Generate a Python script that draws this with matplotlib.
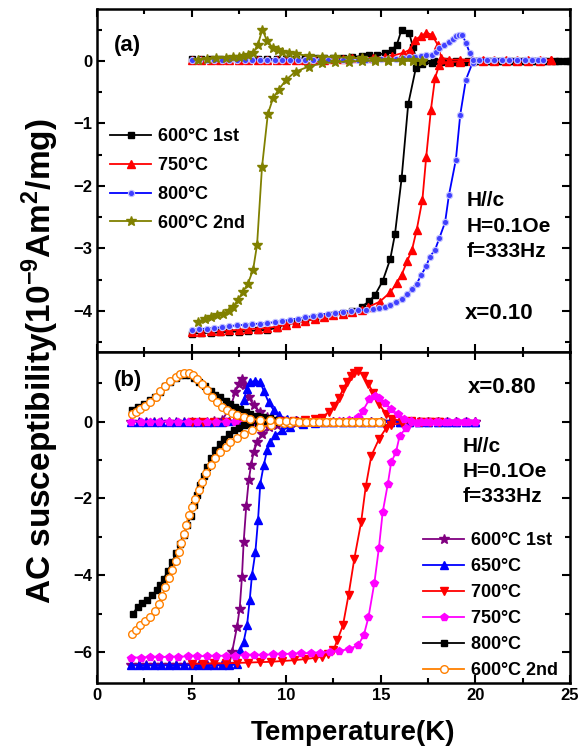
import matplotlib
matplotlib.use("Agg")
import matplotlib.pyplot as plt
from matplotlib.ticker import MultipleLocator

plt.rcParams['font.family'] = ['Liberation Sans', 'DejaVu Sans']
plt.rcParams['font.weight'] = 'bold'
plt.rcParams['mathtext.fontset'] = 'custom'
plt.rcParams['mathtext.rm'] = 'Liberation Sans:bold'
plt.rcParams['mathtext.bf'] = 'Liberation Sans:bold'
plt.rcParams['mathtext.default'] = 'bf'

# ---------------- panel (a), x = 0.10 ----------------
# 600°C 1st
a1_T_re = [5.0, 5.5, 6.0, 6.5, 7.0, 7.5, 8.0, 8.5, 9.0, 9.5, 10.0, 10.5, 11.0, 11.5, 12.0, 12.5, 13.0, 13.5, 14.0,
           14.4, 14.7, 15.1, 15.5, 15.75, 16.1, 16.45, 16.85, 17.2,
           17.7, 18.2, 18.8, 19.4, 20.0, 20.6, 21.2, 21.8, 22.4, 23.0, 23.6, 24.2, 24.8]
a1_re = [-4.36, -4.35, -4.35, -4.34, -4.33, -4.33, -4.32, -4.31, -4.30, -4.27, -4.20, -4.17, -4.15, -4.13, -4.10, -4.07, -4.03, -4.00, -3.93,
         -3.84, -3.74, -3.52, -3.17, -2.77, -1.88, -0.69, -0.12, -0.05,
         -0.03, -0.02, -0.01, -0.01, 0, 0, 0, 0, 0, 0, 0, 0, 0]
a1_T_im = [5.0, 5.5, 6.0, 6.5, 7.0, 7.5, 8.0, 8.5, 9.0, 9.5, 10.0, 10.5, 11.0, 11.5, 12.0, 12.5, 13.0, 13.5, 14.0,
           14.4, 14.8, 15.2, 15.6, 15.85, 16.1, 16.5, 16.7, 16.9,
           17.3, 17.8, 18.4, 19.0, 19.6, 20.2, 20.8, 21.4, 22.0, 22.6, 23.2, 23.8, 24.4, 25.0]
a1_im = [0.03, 0.03, 0.03, 0.03, 0.03, 0.03, 0.03, 0.03, 0.03, 0.03, 0.03, 0.03, 0.04, 0.04, 0.04, 0.05, 0.05, 0.06, 0.08,
         0.09, 0.10, 0.12, 0.18, 0.26, 0.50, 0.45, 0.22, 0.0,
         0, 0, 0, 0, 0, 0, 0, 0, 0, 0, 0, 0, 0, 0]

# 750°C
a2_T_re = [5.0, 5.5, 6.0, 6.5, 7.0, 7.5, 8.0, 8.5, 9.0, 9.5, 10.0, 10.5, 11.0, 11.5, 12.0, 12.5, 13.0, 13.5, 14.0,
           14.3, 14.95, 15.5, 15.85, 16.1, 16.4, 16.65, 16.9, 17.2, 17.4, 17.65, 17.87, 18.1,
           18.6, 19.2, 19.8, 20.4, 21.0, 21.6, 22.2, 22.8, 23.4, 24.0]
a2_re = [-4.33, -4.33, -4.32, -4.32, -4.31, -4.30, -4.29, -4.28, -4.27, -4.25, -4.22, -4.19, -4.16, -4.13, -4.10, -4.07, -4.04, -4.01, -3.98,
         -3.94, -3.85, -3.70, -3.55, -3.42, -3.20, -3.02, -2.70, -2.22, -1.54, -0.78, -0.27, -0.06,
         -0.02, -0.01, 0, 0, 0, 0, 0, 0, 0, 0.01]
a2_T_im = [5.0, 5.5, 6.0, 6.5, 7.0, 7.5, 8.0, 8.5, 9.0, 9.5, 10.0, 10.5, 11.0, 11.5, 12.0, 12.5, 13.0, 13.5, 14.0,
           14.6, 15.2, 15.6, 16.2, 16.55, 16.8, 17.1, 17.4, 17.7, 18.0, 18.2,
           18.6, 19.2, 19.8, 20.4, 21.0, 21.6, 22.2, 22.8, 23.4, 24.0]
a2_im = [0.02, 0.02, 0.02, 0.02, 0.02, 0.02, 0.02, 0.02, 0.02, 0.02, 0.02, 0.02, 0.02, 0.02, 0.02, 0.03, 0.03, 0.04, 0.04,
         0.05, 0.06, 0.08, 0.13, 0.18, 0.34, 0.39, 0.45, 0.42, 0.26, 0.05,
         0.02, 0.02, 0.02, 0.02, 0.02, 0.02, 0.02, 0.02, 0.02, 0.02]

# 800°C
a3_T_re = [5.0, 5.4, 5.8, 6.2, 6.6, 7.0, 7.4, 7.8, 8.2, 8.6, 9.0, 9.4, 9.8, 10.2, 10.6, 11.0, 11.4, 11.8, 12.2, 12.6, 13.0,
           13.4, 13.8, 14.2, 14.6, 14.9, 15.2, 15.5, 15.8, 16.1, 16.4,
           16.65, 16.9, 17.15, 17.4, 17.6, 17.87, 18.1, 18.4, 18.6, 18.97, 19.2, 19.5, 19.85,
           20.2, 20.6, 21.0, 21.4, 21.8, 22.2, 22.6, 23.0, 23.3, 23.6]
a3_re = [-4.30, -4.29, -4.28, -4.27, -4.26, -4.24, -4.23, -4.22, -4.21, -4.20, -4.19, -4.18, -4.16, -4.14, -4.12, -4.10, -4.08, -4.06, -4.04, -4.03, -4.01,
         -4.00, -3.99, -3.98, -3.97, -3.95, -3.93, -3.90, -3.86, -3.80, -3.73,
         -3.64, -3.56, -3.42, -3.28, -3.13, -3.02, -2.83, -2.58, -2.15, -1.58, -0.86, -0.30, -0.03,
         0.01, 0.02, 0.02, 0.02, 0.02, 0.02, 0.02, 0.02, 0.02, 0.02]
a3_T_im = [5.0, 5.4, 5.8, 6.2, 6.6, 7.0, 7.4, 7.8, 8.2, 8.6, 9.0, 9.4, 9.8, 10.2, 10.6, 11.0, 11.4, 11.8, 12.2, 12.6, 13.0,
           13.4, 13.8, 14.2, 14.6, 15.0, 15.4, 15.8, 16.2, 16.5, 16.8,
           17.1, 17.4, 17.7, 17.9, 18.1, 18.35, 18.6, 18.8, 19.0, 19.15,
           19.3, 19.5, 19.7, 19.9,
           20.2, 20.6, 21.0, 21.4, 21.8, 22.2, 22.6, 23.0, 23.3, 23.6]
a3_im = [0.02, 0.02, 0.02, 0.02, 0.02, 0.02, 0.02, 0.02, 0.02, 0.02, 0.02, 0.02, 0.02, 0.02, 0.02, 0.02, 0.02, 0.02, 0.02, 0.02, 0.02,
         0.02, 0.02, 0.02, 0.02, 0.03, 0.03, 0.03, 0.04, 0.06, 0.07,
         0.08, 0.09, 0.10, 0.14, 0.20, 0.25, 0.30, 0.35, 0.39, 0.41,
         0.42, 0.29, 0.13, 0.02,
         0.02, 0.02, 0.02, 0.02, 0.02, 0.02, 0.02, 0.02, 0.02, 0.02]

# 600°C 2nd
a4_T_re = [5.35, 5.7, 6.0, 6.35, 6.67, 6.95, 7.2, 7.46, 7.7, 7.98, 8.25, 8.46, 8.72, 9.03, 9.3, 9.6, 10.0, 10.5, 11.2, 11.9,
           12.6, 13.3, 14.0, 14.7, 15.4, 16.1, 16.7, 17.2]
a4_re = [-4.17, -4.12, -4.09, -4.07, -4.04, -4.00, -3.93, -3.82, -3.70, -3.56, -3.34, -2.94, -1.70, -0.85, -0.60, -0.46, -0.30, -0.17, -0.09, -0.04,
         -0.02, -0.01, 0, 0, 0, 0, 0, 0]
a4_T_im = [5.35, 5.8, 6.3, 6.8, 7.2, 7.5, 7.7, 8.0, 8.25, 8.5, 8.74, 9.0, 9.3, 9.55, 9.8, 10.15, 10.5, 11.2, 11.9, 12.6,
           13.3, 14.0, 14.7, 15.4, 16.1, 16.7, 17.2]
a4_im = [0.02, 0.03, 0.04, 0.05, 0.06, 0.07, 0.08, 0.10, 0.12, 0.26, 0.50, 0.31, 0.21, 0.17, 0.15, 0.13, 0.11, 0.08, 0.07, 0.06,
         0.05, 0.04, 0.03, 0.02, 0.01, 0.01, 0.0]

# ---------------- panel (b), x = 0.80 ----------------
# 600°C 1st
b1_T_re = [1.8, 2.2, 2.6, 3.0, 3.4, 3.8, 4.2, 4.6, 5.0, 5.4, 5.8, 6.2, 6.6, 7.0,
           7.14, 7.4, 7.54, 7.66, 7.75, 7.89, 8.02, 8.14, 8.28, 8.46, 8.72, 9.07,
           9.5, 10.0, 10.5, 11.0, 11.5, 12.0, 12.5, 13.0, 13.5, 14.0, 14.5, 15.0, 15.5, 16.0, 16.5, 17.0, 17.5, 18.0, 18.5, 19.0, 19.5, 20.0]
b1_re = [-6.34, -6.34, -6.34, -6.34, -6.34, -6.34, -6.34, -6.34, -6.34, -6.34, -6.34, -6.34, -6.34, -6.30,
         -5.99, -5.34, -4.87, -4.05, -3.14, -2.19, -1.53, -1.14, -0.80, -0.54, -0.32, -0.15,
         -0.08, -0.05, -0.03, -0.02, -0.01, -0.01, 0, 0, 0, 0, 0, 0, 0, 0, 0, 0, 0, 0, 0, 0, 0, 0]
b1_T_im = [1.8, 2.2, 2.6, 3.0, 3.4, 3.8, 4.2, 4.6, 5.0, 5.4, 5.8, 6.2, 6.6,
           7.05, 7.31, 7.49, 7.66, 7.84, 8.02, 8.28, 8.63, 8.99,
           9.5, 10.0, 10.5, 11.0, 11.5, 12.0, 12.5, 13.0, 13.5, 14.0, 14.5, 15.0, 15.5, 16.0, 16.5, 17.0, 17.5, 18.0, 18.5, 19.0, 19.5, 20.0]
b1_im = [0, 0, 0, 0, 0, 0, 0, 0, 0, 0, 0, 0.01, 0.03,
         0.37, 0.76, 0.98, 1.11, 0.94, 0.63, 0.42, 0.24, 0.12,
         0.03, 0.02, 0.01, 0, 0, 0, 0, 0, 0, 0, 0, 0, 0, 0, 0, 0, 0, 0, 0, 0, 0, 0]

# 650°C
b2_T_re = [1.8, 2.2, 2.6, 3.0, 3.4, 3.8, 4.2, 4.6, 5.0, 5.4, 5.8, 6.2, 6.6, 7.0, 7.4,
           7.58, 7.75, 7.93, 8.07, 8.19, 8.37, 8.51, 8.63, 8.81, 8.99, 9.16, 9.43, 9.78, 10.2, 10.9,
           11.5, 12.0, 12.5, 13.0, 13.5, 14.0, 14.5, 15.0, 15.5, 16.0, 16.5, 17.0, 17.5, 18.0, 18.5, 19.0, 19.5, 20.0]
b2_re = [-6.34, -6.34, -6.34, -6.34, -6.34, -6.34, -6.34, -6.34, -6.34, -6.34, -6.34, -6.34, -6.34, -6.34, -6.32,
         -5.95, -5.73, -5.30, -4.65, -4.00, -3.40, -2.57, -1.62, -1.14, -0.75, -0.54, -0.36, -0.23, -0.13, -0.06,
         -0.03, -0.02, -0.01, 0, 0, 0, 0, 0, 0, 0, 0, 0, 0, 0, 0, 0, 0, 0]
b2_T_im = [1.8, 2.2, 2.6, 3.0, 3.4, 3.8, 4.2, 4.6, 5.0, 5.4, 5.8, 6.2, 6.6, 7.0, 7.4,
           7.75, 7.93, 8.1, 8.37, 8.63, 8.81, 9.07, 9.34, 9.6, 10.04,
           10.5, 11.0, 11.5, 12.0, 12.5, 13.0, 13.5, 14.0, 14.5, 15.0, 15.5, 16.0, 16.5, 17.0, 17.5, 18.0, 18.5, 19.0, 19.5, 20.0]
b2_im = [0, 0, 0, 0, 0, 0, 0, 0, 0, 0, 0, 0, 0, 0.01, 0.05,
         0.55, 0.85, 1.02, 1.06, 1.02, 0.80, 0.50, 0.29, 0.16, 0.07,
         0.03, 0.02, 0.01, 0, 0, 0, 0, 0, 0, 0, 0, 0, 0, 0, 0, 0, 0, 0, 0, 0]

# 700°C
b3_T_re = [5.0, 5.6, 6.2, 6.8, 7.4, 8.0, 8.6, 9.2, 9.8, 10.4, 11.0, 11.5, 11.9,
           12.2, 12.5, 12.7, 13.0, 13.3, 13.6, 13.96, 14.2, 14.5, 14.9, 15.3, 15.55,
           16.1, 16.6, 17.1, 17.6, 18.1]
b3_re = [-6.30, -6.30, -6.29, -6.29, -6.28, -6.27, -6.26, -6.25, -6.23, -6.21, -6.18, -6.15, -6.12,
         -6.06, -5.95, -5.69, -5.30, -4.50, -3.57, -2.62, -1.71, -0.89, -0.46, -0.16, -0.09,
         -0.04, -0.02, -0.01, 0, 0]
b3_T_im = [5.0, 5.6, 6.2, 6.8, 7.4, 8.0, 8.6, 9.2, 9.8, 10.4, 11.0, 11.5,
           11.9, 12.25, 12.55, 12.8, 13.0, 13.2, 13.4, 13.6, 13.8, 14.1, 14.35, 14.6, 14.9, 15.3, 15.6,
           16.1, 16.6, 17.1, 17.6, 18.1]
b3_im = [0, 0, 0, 0, 0, 0, 0, 0.01, 0.01, 0.02, 0.04, 0.06,
         0.10, 0.25, 0.41, 0.62, 0.84, 1.02, 1.19, 1.27, 1.31, 1.19, 0.97, 0.75, 0.45, 0.19, 0.06,
         0.02, 0.01, 0, 0, 0]

# 750°C
b4_T_re = [1.8, 2.3, 2.8, 3.3, 3.8, 4.3, 4.8, 5.3, 5.8, 6.3, 6.8, 7.3, 7.8, 8.3, 8.8, 9.3, 9.8, 10.3, 10.8, 11.3, 11.8, 12.3, 12.8, 13.3,
           13.8, 14.1, 14.35, 14.66, 14.9, 15.1, 15.37, 15.55, 15.8, 16.0, 16.35,
           16.9, 17.4, 17.9, 18.4, 18.9, 19.4, 20.0]
b4_re = [-6.14, -6.14, -6.13, -6.13, -6.12, -6.12, -6.11, -6.11, -6.10, -6.10, -6.09, -6.09, -6.08, -6.08, -6.07, -6.06, -6.05, -6.04, -6.03, -6.02, -6.01, -6.00, -5.97, -5.92,
         -5.82, -5.56, -5.09, -4.20, -3.29, -2.36, -1.63, -1.06, -0.80, -0.37, -0.16,
         -0.05, -0.02, -0.01, 0, 0, 0, 0]
b4_T_im = [1.8, 2.3, 2.8, 3.3, 3.8, 4.3, 4.8, 5.3, 5.8, 6.3, 6.8, 7.3, 7.8, 8.3, 8.8, 9.3, 9.8, 10.3, 10.8, 11.3, 11.8, 12.3, 12.8, 13.3,
           13.8, 14.05, 14.4, 14.7, 14.9, 15.2, 15.55, 15.9, 16.25, 16.6,
           17.1, 17.6, 18.1, 18.6, 19.1, 19.6, 20.0]
b4_im = [0, 0, 0, 0, 0, 0, 0, 0, 0, 0, 0, 0, 0, 0, 0, 0, 0, 0, 0, 0, 0, 0, 0.01, 0.03,
         0.12, 0.28, 0.58, 0.67, 0.62, 0.49, 0.32, 0.19, 0.06, 0.01,
         0, 0, 0, 0, 0, 0, 0]

# 800°C
b5_T_re = [1.9, 2.15, 2.4, 2.64, 2.9, 3.17, 3.35, 3.52, 3.75, 3.96, 4.2, 4.4, 4.6, 4.76, 4.95, 5.1, 5.3, 5.46, 5.65, 5.81,
           6.05, 6.25, 6.5, 6.7, 7.0, 7.22, 7.5, 7.75, 8.1, 8.5, 9.0, 9.6, 10.2, 11.0, 11.8, 12.6, 13.4, 14.2, 15.0]
b5_re = [-5.00, -4.82, -4.72, -4.65, -4.52, -4.39, -4.25, -4.09, -3.88, -3.65, -3.42, -3.18, -2.95, -2.70, -2.45, -2.18, -1.90, -1.66, -1.42, -1.19,
         -0.95, -0.75, -0.58, -0.45, -0.32, -0.23, -0.16, -0.10, -0.06, -0.03, -0.02, -0.01, 0, 0, 0, 0, 0, 0, 0]
b5_T_im = [1.85, 2.15, 2.47, 2.8, 3.08, 3.35, 3.6, 3.88, 4.15, 4.4, 4.65, 4.9, 5.15, 5.4, 5.7, 6.0, 6.25, 6.5, 6.8, 7.05,
           7.3, 7.58, 7.85, 8.1, 8.45, 8.8, 9.15, 9.5, 10.0, 10.6, 11.4, 12.2, 13.0, 13.8, 14.6, 15.0]
b5_im = [0.30, 0.38, 0.46, 0.55, 0.63, 0.78, 0.92, 1.04, 1.14, 1.20, 1.22, 1.20, 1.13, 1.03, 0.92, 0.80, 0.70, 0.63, 0.54, 0.46,
         0.39, 0.33, 0.26, 0.20, 0.15, 0.12, 0.08, 0.04, 0.02, 0.01, 0, 0, 0, 0, 0, 0]

# 600°C 2nd
b6_T_re = [1.85, 2.05, 2.29, 2.55, 2.82, 3.05, 3.26, 3.45, 3.61, 3.8, 3.96, 4.15, 4.32, 4.45, 4.58, 4.72, 4.84, 5.0, 5.2, 5.38,
           5.55, 5.78, 6.0, 6.25, 6.52, 6.8, 7.05, 7.4, 7.75, 8.2, 8.63, 9.2, 9.87,
           10.2, 10.55, 10.9, 11.25, 11.6, 11.95, 12.3, 12.65, 13.0, 13.35, 13.7, 14.05, 14.4, 14.75, 15.0]
b6_re = [-5.52, -5.42, -5.30, -5.19, -5.08, -4.93, -4.74, -4.53, -4.30, -4.08, -3.87, -3.64, -3.40, -3.16, -2.92, -2.68, -2.44, -2.22, -2.01, -1.79,
         -1.58, -1.35, -1.14, -0.96, -0.80, -0.66, -0.54, -0.42, -0.32, -0.22, -0.15, -0.08, -0.04,
         -0.03, -0.02, -0.02, -0.01, -0.01, 0, 0, 0, 0, 0, 0, 0, 0, 0, 0]
b6_T_im = [1.85, 2.05, 2.29, 2.55, 2.82, 3.1, 3.35, 3.6, 3.88, 4.15, 4.4, 4.62, 4.84, 5.05, 5.29, 5.55, 5.81, 6.08, 6.34, 6.6,
           6.87, 7.15, 7.4, 7.75, 8.1, 8.6, 9.16, 9.6,
           10.0, 10.35, 10.7, 11.05, 11.4, 11.75, 12.1, 12.45, 12.8, 13.15, 13.5, 13.85, 14.2, 14.55, 14.9]
b6_im = [0.20, 0.26, 0.33, 0.41, 0.50, 0.65, 0.80, 0.93, 1.06, 1.16, 1.24, 1.26, 1.26, 1.20, 1.11, 0.97, 0.81, 0.65, 0.50, 0.39,
         0.29, 0.21, 0.16, 0.11, 0.07, 0.04, 0.03, 0.02,
         0.01, 0.01, 0, 0, 0, 0, 0, 0, 0, 0, 0, 0, 0, 0, 0]

fig = plt.figure(figsize=(5.81, 7.48), dpi=100)
ax1 = fig.add_axes([0.167, 0.529, 0.814, 0.459])
ax2 = fig.add_axes([0.167, 0.087, 0.814, 0.442], sharex=ax1)

lw = 1.3


def branch(ax, T_re, re, T_im, im, label, **kw):
    ax.plot(T_re, re, lw=lw, label=label, **kw)
    ax.plot(T_im, im, lw=lw, **kw)


# panel (a)
branch(ax1, a1_T_re, a1_re, a1_T_im, a1_im, '600$\\degree$C 1st', color='black', marker='s', ms=4.5)
branch(ax1, a2_T_re, a2_re, a2_T_im, a2_im, '750$\\degree$C', color='red', marker='^', ms=5.5)
branch(ax1, a3_T_re, a3_re, a3_T_im, a3_im, '800$\\degree$C', color='#0000ff', marker='o', ms=4.5,
       mfc='#4040ff', mec='#c0c0ff', mew=0.8)
branch(ax1, a4_T_re, a4_re, a4_T_im, a4_im, '600$\\degree$C 2nd', color='#808000', marker='*', ms=7)

# panel (b)
branch(ax2, b1_T_re, b1_re, b1_T_im, b1_im, '600$\\degree$C 1st', color='#800080', marker='*', ms=7)
branch(ax2, b2_T_re, b2_re, b2_T_im, b2_im, '650$\\degree$C', color='#0000ff', marker='^', ms=5.5)
branch(ax2, b3_T_re, b3_re, b3_T_im, b3_im, '700$\\degree$C', color='red', marker='v', ms=5.5)
branch(ax2, b4_T_re, b4_re, b4_T_im, b4_im, '750$\\degree$C', color='#ff00ff', marker='p', ms=6)
branch(ax2, b5_T_re, b5_re, b5_T_im, b5_im, '800$\\degree$C', color='black', marker='s', ms=5)
branch(ax2, b6_T_re, b6_re, b6_T_im, b6_im, '600$\\degree$C 2nd', color='#ff8000', marker='o', ms=5.5,
       mfc='white', mec='#ff8000', mew=1.0)

ax1.set_xlim(0, 25)
ax1.set_ylim(-4.66, 0.83)
ax2.set_ylim(-6.8, 1.8)
ax1.xaxis.set_major_locator(MultipleLocator(5))
ax1.xaxis.set_minor_locator(MultipleLocator(2.5))
ax1.yaxis.set_major_locator(MultipleLocator(1))
ax1.yaxis.set_minor_locator(MultipleLocator(0.5))
ax2.yaxis.set_major_locator(MultipleLocator(2))
ax2.yaxis.set_minor_locator(MultipleLocator(1))

for ax in (ax1, ax2):
    for s in ax.spines.values():
        s.set_linewidth(1.8)
    ax.tick_params(which='both', direction='in', top=True, right=True, width=1.5, labelsize=12)
    ax.tick_params(which='major', length=6)
    ax.tick_params(which='minor', length=3.5)
    for t in ax.get_yticklabels() + ax.get_xticklabels():
        t.set_fontweight('bold')
ax1.tick_params(labelbottom=False)

ax2.set_xlabel('Temperature(K)', fontsize=20, fontweight='bold', va='center')
ax2.xaxis.set_label_coords(0.541, -0.151)
fig.text(0.069, 0.517, 'AC susceptibility(10$^{-9}$Am$^{2}$/mg)', rotation=90,
         fontsize=24, fontweight='bold', ha='center', va='center')

ax1.text(0.035, 0.895, '(a)', transform=ax1.transAxes, fontsize=16, fontweight='bold', va='center')
ax2.text(0.035, 0.915, '(b)', transform=ax2.transAxes, fontsize=16, fontweight='bold', va='center')
ax1.text(0.778, 0.114, 'x=0.10', transform=ax1.transAxes, fontsize=16, fontweight='bold', va='center')
ax2.text(0.785, 0.894, 'x=0.80', transform=ax2.transAxes, fontsize=16, fontweight='bold', va='center')
ax1.text(0.782, 0.47, 'H//c\nH=0.1Oe\nf=333Hz', transform=ax1.transAxes, fontsize=15,
         fontweight='bold', va='top', linespacing=1.45)
ax2.text(0.774, 0.745, 'H//c\nH=0.1Oe\nf=333Hz', transform=ax2.transAxes, fontsize=15,
         fontweight='bold', va='top', linespacing=1.4)

leg_kw = dict(frameon=False, handlelength=2.3, handletextpad=0.3,
              borderpad=0, borderaxespad=0, loc='upper left', prop={'weight': 'bold', 'size': 13})
ax1.legend(bbox_to_anchor=(0.027, 0.652), labelspacing=0.65, **leg_kw)
ax2.legend(bbox_to_anchor=(0.689, 0.456), labelspacing=0.5, **leg_kw)

fig.savefig('out.png', dpi=100)
